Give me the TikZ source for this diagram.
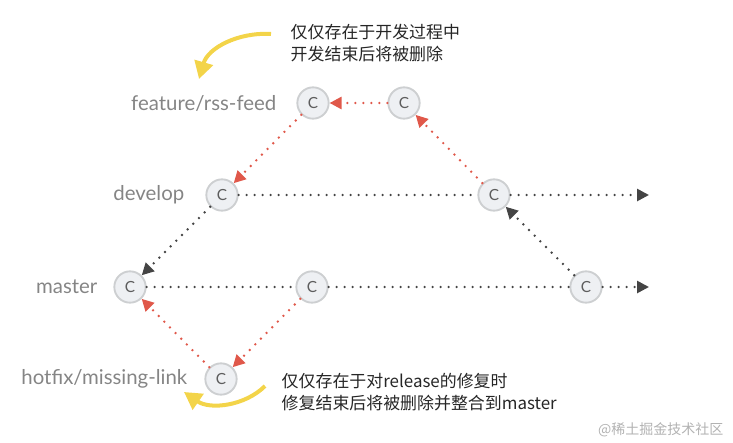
\documentclass[tikz,border=0pt]{standalone}
\usepackage{fontspec}
\setmainfont{Lato}
\newfontfamily\cjk{Noto Sans CJK SC}
\usetikzlibrary{arrows.meta}
\definecolor{punktgrau}{HTML}{444444}
\definecolor{rotpunkt}{HTML}{E0584A}
\definecolor{ringgrau}{HTML}{CDCFD1}
\definecolor{kreisfill}{HTML}{EEF0F3}
\definecolor{labelgrau}{HTML}{858585}
\definecolor{gelb}{HTML}{F3D449}

\begin{document}
\begin{tikzpicture}[x=0.75pt,y=-0.75pt,
    commit/.style={circle, minimum size=23.5pt, inner sep=0pt, draw=ringgrau, line width=1.4pt, fill=kreisfill, text=labelgrau!70!black, font=\fontsize{11.5}{12}\selectfont},
    zweig/.style={anchor=east, text=labelgrau, font=\fontsize{15.3}{17}\selectfont},
    notiz/.style={anchor=west, align=left, text=black!85, font=\cjk\fontsize{12.7}{17}\selectfont},
    weg/.style={line width=2pt, line cap=round, dash pattern=on 0pt off 6pt, punktgrau},
    rotweg/.style={weg, rotpunkt},
    spitze/.style={-{Triangle[length=9pt,width=9pt]}},
    gelbpfeil/.style={gelb, line width=3pt, -{Triangle[length=13pt,width=14pt]}},
]
\useasboundingbox (0,0) rectangle (733,443);

% Zweige
\node [zweig] (lf) at (281,103) {feature/rss-feed};
\node [zweig] (ld) at (189,195) {develop};
\node [zweig] (lm) at (102,287) {master};
\node [zweig] (lh) at (192,379) {hotfix/missing-link};

% Commits
\node [commit] (f1) at (313,103) {C};
\node [commit] (f2) at (404,103) {C};
\node [commit] (d1) at (222,195) {C};
\node [commit] (d2) at (494,195) {C};
\node [commit] (m1) at (130,287) {C};
\node [commit] (m2) at (312,287) {C};
\node [commit] (m3) at (586,287) {C};
\node [commit] (h1) at (221,379) {C};

\coordinate (dende) at (649,195);
\coordinate (mende) at (649,287);

% Linien
\draw[weg] (d1) -- (d2);
\draw[weg, spitze] (d2) -- (dende);
\draw[weg] (m1) -- (m2);
\draw[weg] (m2) -- (m3);
\draw[weg, spitze] (m3) -- (mende);
\draw[weg, spitze] (d1) -- (m1);
\draw[weg, spitze] (m3) -- (d2);
\draw[rotweg, spitze] (f2) -- (f1);
\draw[rotweg, spitze] (f1) -- (d1);
\draw[rotweg, spitze] (d2) -- (f2);
\draw[rotweg, spitze] (m2) -- (h1);
\draw[rotweg, spitze] (h1) -- (m1);

% Notizen
\node [notiz] (n1) at (286,43) {仅仅存在于开发过程中\\开发结束后将被删除};
\node [notiz] (n2) at (277,392) {仅仅存在于对release的修复时\\修复结束后将被删除并整合到master};
\node [anchor=east, text=black!30, font=\cjk\fontsize{10.5}{12}\selectfont] (wm) at (728,430) {@稀土掘金技术社区};

\coordinate (g1a) at (271,34);
\coordinate (g1b) at (199,79);
\coordinate (g2a) at (265,386);
\coordinate (g2b) at (184,392);
\draw[gelbpfeil] (g1a) .. controls (238,32) and (208,48) .. (g1b);
\draw[gelbpfeil] (g2a) .. controls (245,406) and (210,410) .. (g2b);

\end{tikzpicture}
\end{document}
